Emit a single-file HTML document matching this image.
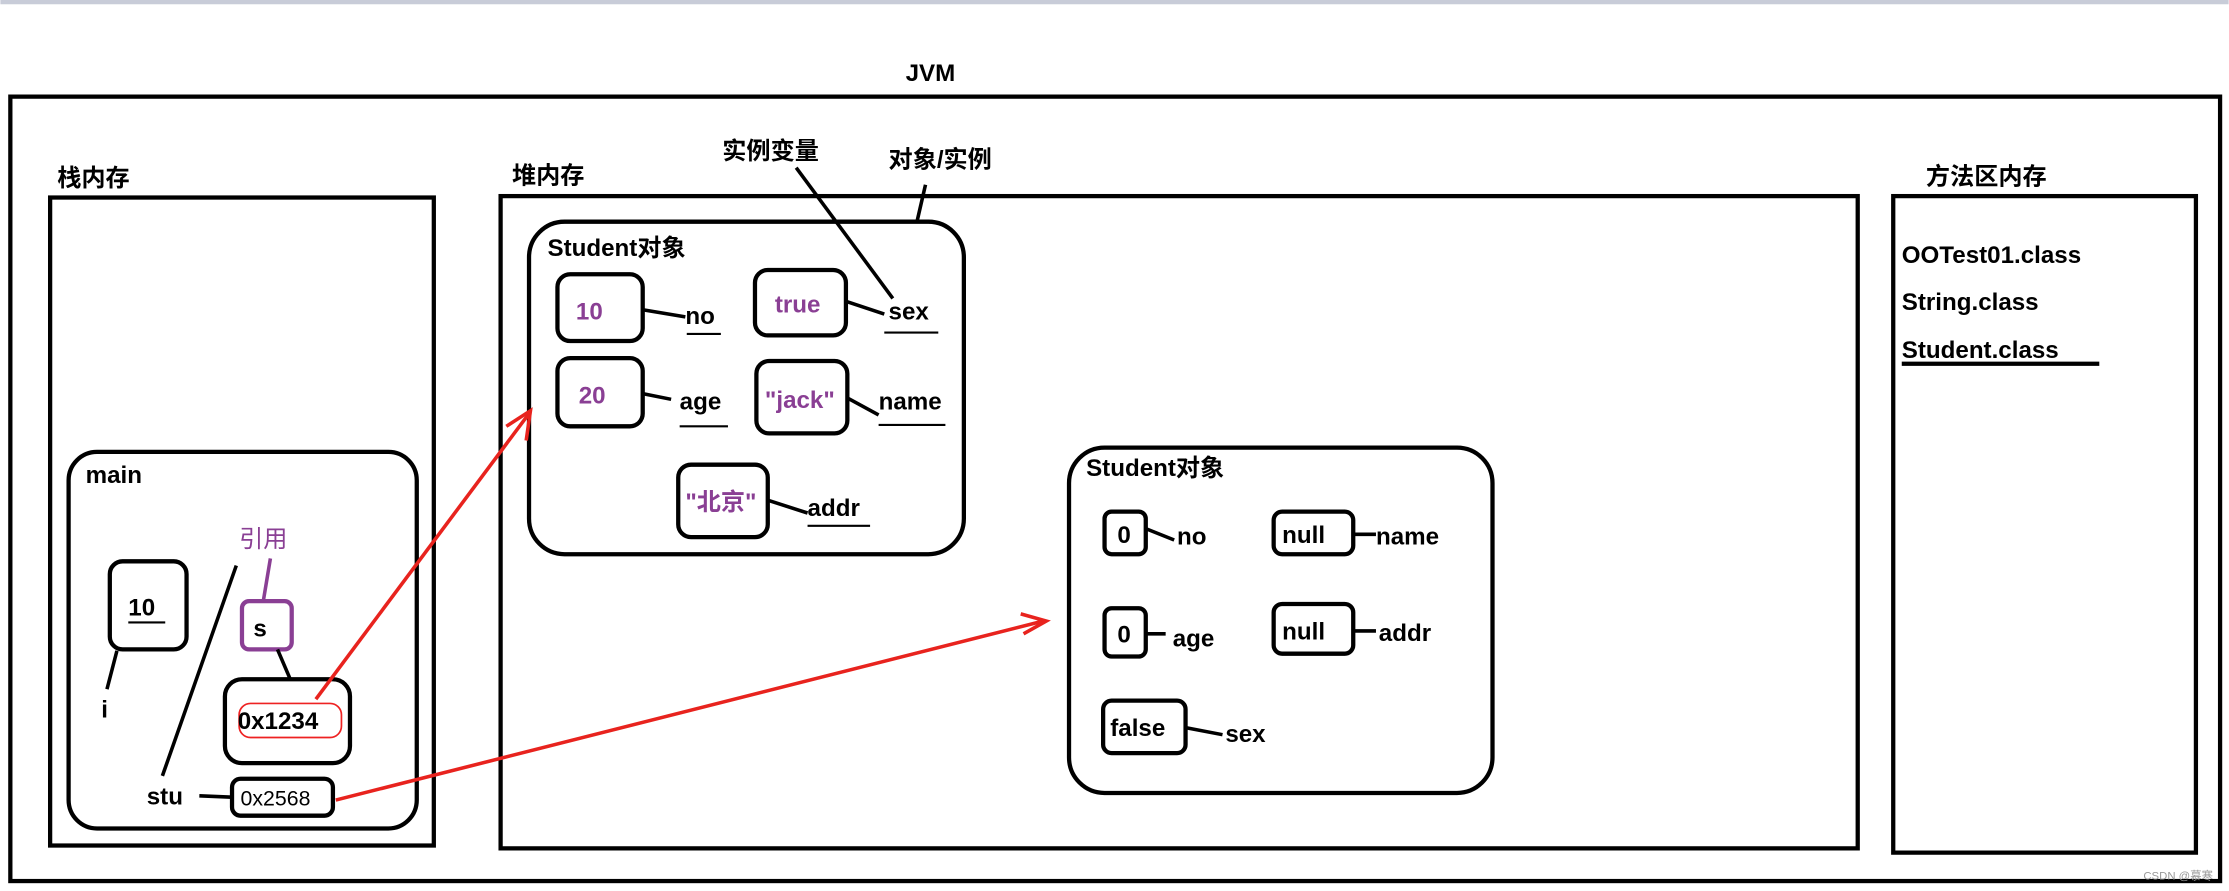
<!DOCTYPE html>
<html><head><meta charset="utf-8"><style>
html,body{margin:0;padding:0;background:#fff;width:2229px;height:891px;overflow:hidden}
svg{display:block}
text{font-family:"Liberation Sans","Noto Sans CJK SC",sans-serif;font-weight:bold;font-size:17px;fill:#000}
.p{fill:#8a3f94}
</style></head><body>
<svg width="2229" height="891" viewBox="0 0 1568 627" xmlns="http://www.w3.org/2000/svg">
<rect x="0" y="0" width="1568" height="3" fill="#c8ccd8"/>
<g fill="none" stroke="#000" stroke-width="3">
<rect x="7" y="68" width="1555" height="552"/>
<rect x="35" y="139" width="270" height="456"/>
<rect x="48" y="318" width="245" height="265" rx="20"/>
<rect x="77" y="395" width="54" height="62" rx="9"/>
<rect x="158" y="478" width="88" height="59" rx="12"/>
<rect x="163" y="548" width="71" height="26" rx="6"/>
<rect x="352" y="138" width="955" height="459"/>
<rect x="372" y="156" width="306" height="234" rx="25"/>
<rect x="392" y="193" width="60" height="47" rx="9"/>
<rect x="531" y="190" width="64" height="46" rx="9"/>
<rect x="392" y="252" width="60" height="48" rx="9"/>
<rect x="532" y="254" width="64" height="51" rx="9"/>
<rect x="477" y="327" width="63" height="51" rx="9"/>
<rect x="752" y="315" width="298" height="243" rx="25"/>
<rect x="777" y="360" width="29" height="30" rx="5"/>
<rect x="896" y="360" width="56" height="30" rx="6"/>
<rect x="777" y="428" width="29" height="34" rx="5"/>
<rect x="896" y="425" width="56" height="35" rx="6"/>
<rect x="776" y="493" width="58" height="37" rx="6"/>
<rect x="1332" y="138" width="213" height="462"/>
</g>
<rect x="170" y="423" width="35" height="34" rx="5" fill="none" stroke="#8a3f94" stroke-width="3"/>
<g stroke="#000" stroke-width="2.5" fill="none">
<line x1="82" y1="458" x2="75" y2="485"/>
<line x1="166" y1="398" x2="114" y2="546"/>
<line x1="195" y1="457" x2="204" y2="478"/>
<line x1="140" y1="560" x2="163" y2="561"/>
<line x1="452" y1="218" x2="482" y2="223"/>
<line x1="595" y1="212" x2="622" y2="221"/>
<line x1="452" y1="277" x2="472" y2="281"/>
<line x1="596" y1="280" x2="618" y2="292"/>
<line x1="540" y1="352" x2="568" y2="361"/>
<line x1="560" y1="118" x2="628" y2="210"/>
<line x1="651" y1="130" x2="645" y2="156"/>
<line x1="806" y1="372" x2="826" y2="380"/>
<line x1="952" y1="376" x2="968" y2="376"/>
<line x1="806" y1="446" x2="820" y2="446"/>
<line x1="952" y1="444" x2="968" y2="444"/>
<line x1="834" y1="512" x2="860" y2="517"/>
</g>
<g stroke="#000" stroke-width="1.5">
<line x1="90" y1="438" x2="116" y2="438"/>
<line x1="483" y1="235" x2="507" y2="235"/>
<line x1="622" y1="234" x2="660" y2="234"/>
<line x1="478" y1="300" x2="512" y2="300"/>
<line x1="618" y1="299" x2="665" y2="299"/>
<line x1="568" y1="370" x2="612" y2="370"/>
</g>
<line x1="1338" y1="256" x2="1477" y2="256" stroke="#000" stroke-width="3"/>
<line x1="190" y1="393" x2="185" y2="423" stroke="#8a3f94" stroke-width="2.5"/>
<rect x="168" y="495" width="72" height="24" rx="8" fill="none" stroke="#e22" stroke-width="1.2"/>
<g stroke="#e8231e" stroke-width="2.5" fill="none">
<line x1="222" y1="492" x2="372" y2="291"/>
<polyline points="356,300 373,289 370,310"/>
<line x1="236" y1="563" x2="734" y2="437"/>
<polyline points="718,432 736,437 720,446"/>
</g>
<text x="637" y="57">JVM</text>
<text x="40" y="131">栈内存</text>
<text x="360" y="129">堆内存</text>
<text x="1355" y="130">方法区内存</text>
<text x="508" y="112">实例变量</text>
<text x="625" y="118">对象/实例</text>
<text x="60" y="340">main</text>
<text x="168" y="385" class="p" style="font-weight:normal">引用</text>
<text x="90" y="433">10</text>
<text x="71" y="505">i</text>
<text x="178" y="448">s</text>
<text x="167" y="513">0x1234</text>
<text x="103" y="566">stu</text>
<text x="169" y="567" style="font-weight:normal;font-size:15px">0x2568</text>
<text x="385" y="180">Student对象</text>
<text x="405" y="225" class="p">10</text>
<text x="482" y="228">no</text>
<text x="545" y="220" class="p">true</text>
<text x="625" y="225">sex</text>
<text x="407" y="284" class="p">20</text>
<text x="478" y="288">age</text>
<text x="538" y="287" class="p">"jack"</text>
<text x="618" y="288">name</text>
<text x="482" y="359" class="p">"北京"</text>
<text x="568" y="363">addr</text>
<text x="764" y="335">Student对象</text>
<text x="786" y="382">0</text>
<text x="828" y="383">no</text>
<text x="902" y="382">null</text>
<text x="968" y="383">name</text>
<text x="786" y="452">0</text>
<text x="825" y="455">age</text>
<text x="902" y="450">null</text>
<text x="970" y="451">addr</text>
<text x="781" y="518">false</text>
<text x="862" y="522">sex</text>
<text x="1338" y="185">OOTest01.class</text>
<text x="1338" y="218">String.class</text>
<text x="1338" y="252">Student.class</text>
<text x="1508" y="619" style="font-weight:normal;font-size:8px;fill:#999">CSDN @慕寒</text>
</svg>
</body></html>
